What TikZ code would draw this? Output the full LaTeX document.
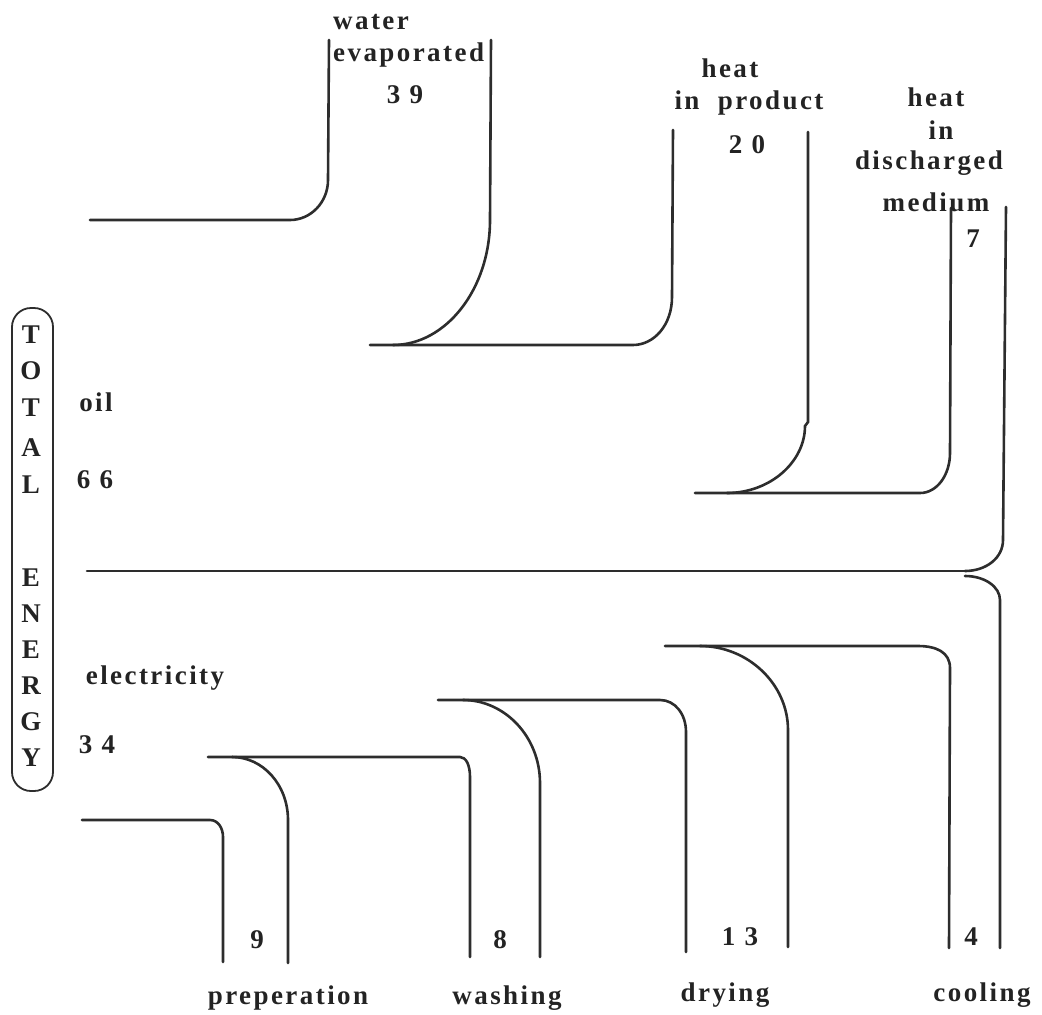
\documentclass[tikz,border=0pt]{standalone}
\usepackage{fontspec}
\setmainfont{Liberation Serif}[LetterSpace=9]
\definecolor{ink}{RGB}{45,45,45}
\definecolor{txt}{RGB}{35,35,35}
\begin{document}
\begin{tikzpicture}[x=1pt,y=-1pt,
  flow/.style={line width=2.6pt, draw=ink, line cap=round},
  lbl/.style={font=\fontsize{27}{30}\selectfont\bfseries, text=txt, inner sep=0pt},
  ttl/.style={font=\fontsize{27}{30}\selectfont\bfseries, text=txt, inner sep=0pt}]
\useasboundingbox (0,0) rectangle (1042,1015);

% TOTAL ENERGY box
\draw[line width=1.8pt, draw=ink, rounded corners=19pt] (12,308) rectangle (53,791);
\foreach \ch/\yy [count=\i] in {T/335,O/371,T/408,A/448,L/485,E/578,N/614,E/650,R/686,G/722,Y/758}
  \node[ttl] (te\i) at (31,\yy) {\ch};

% top flows (oil)
\draw[flow] (90,220) -- (290,220) .. controls (311,220) and (328,202) .. (328,180) -- (329,40);
\draw[flow] (491,40) -- (490,220) .. controls (490,289) and (446,345) .. (393,345);
\draw[flow] (370,345) -- (633,345) .. controls (654,345) and (672,325) .. (672,297) -- (673,130);
\draw[flow] (808,132) -- (808,422) -- (805,426) .. controls (805,462) and (770,493) .. (727,493);
\draw[flow] (695,493) -- (920,493) .. controls (937,493) and (950,475) .. (950,453) -- (951,208);
\draw[flow] (1006,207) -- (1003,540) .. controls (1003,558) and (986,571) .. (965,571);
\draw[flow] (87,571) -- (966,571);

% bottom flows (electricity)
\draw[flow] (965,576) .. controls (985,576) and (1000,587) .. (1000,600) -- (1000,948);
\draw[flow] (665,646) -- (918,646) .. controls (936,646) and (950,652) .. (950,668) -- (949,948);
\draw[flow] (700,646) .. controls (748,646) and (788,684) .. (788,730) -- (788,947);
\draw[flow] (438,700) -- (660,700) .. controls (675,700) and (686,714) .. (686,732) -- (686,952);
\draw[flow] (463,700) .. controls (505,700) and (540,737) .. (540,783) -- (540,957);
\draw[flow] (208,757) -- (460,757) .. controls (466,757) and (470,765) .. (470,777) -- (470,957);
\draw[flow] (232,757) .. controls (263,757) and (288,785) .. (288,820) -- (288,963);
\draw[flow] (82,820) -- (210,820) .. controls (218,820) and (223,828) .. (223,837) -- (223,962);

% labels
\node[lbl, anchor=west] (water) at (333,22) {water};
\node[lbl, anchor=west] (evap) at (333,55) {evaporated};
\node[lbl] (n39) at (405,95) {3 9};
\node[lbl] (heatA) at (730,68) {heat};
\node[lbl] (inprod) at (749,103) {in~~product};
\node[lbl] (n20) at (747,145) {2 0};
\node[lbl] (heatB) at (936,97) {heat};
\node[lbl] (inB) at (941,130) {in};
\node[lbl] (disch) at (929,163) {discharged};
\node[lbl] (medium) at (936,202) {medium};
\node[lbl] (n7) at (973,239) {7};
\node[lbl] (oil) at (96,402) {oil};
\node[lbl] (n66) at (95,480) {6 6};
\node[lbl] (elec) at (155,678) {electricity};
\node[lbl] (n34) at (97,745) {3 4};
\node[lbl] (n9) at (257,940) {9};
\node[lbl] (n8) at (500,940) {8};
\node[lbl] (n13) at (740,937) {1 3};
\node[lbl] (n4) at (971,937) {4};
\node[lbl] (prep) at (288,998) {preperation};
\node[lbl] (wash) at (507,998) {washing};
\node[lbl] (dry) at (725,995) {drying};
\node[lbl] (cool) at (982,995) {cooling};
\end{tikzpicture}
\end{document}
